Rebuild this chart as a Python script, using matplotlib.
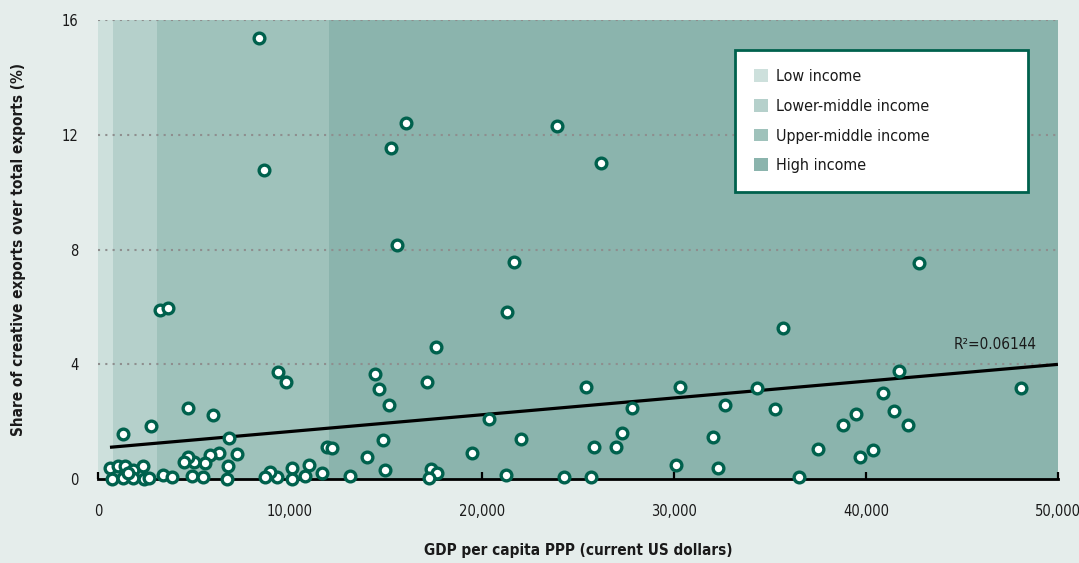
import matplotlib
matplotlib.use("Agg")
from matplotlib import pyplot as plt
from matplotlib.patches import Patch
from matplotlib.ticker import FuncFormatter
import numpy as np

#
# Data
#

GDP = [8400, 8650, 16050, 15260, 23900, 26200, 15570, 21670, 42760, 21300,
       3230, 3650, 35680, 17590, 9370, 9780, 14430, 14630, 15160, 17120,
       25400, 30310, 34350, 48100, 40910, 41720, 4670, 5970, 2760, 1320,
       27840, 32680, 35270, 41480, 39500, 38780, 42210, 20350, 22010, 14860,
       27300, 26960, 25850, 32050, 37480, 40380, 39710, 19480, 30090, 32280,
       36510, 21250, 24280, 25680, 17330, 17640, 17240, 11910, 12170, 13990,
       14950, 13120, 11650, 11000, 10760, 10090, 10090, 9350, 8960, 8700,
       7220, 6840, 6300, 5830, 5570, 5020, 4670, 4500, 6790, 4880,
       5480, 6700, 3400, 3850, 625, 1060, 1410, 1840, 2360, 755,
       1280, 1810, 2400, 1560, 2660]
SHARE = [15.38, 10.78, 12.42, 11.55, 12.32, 11.03, 8.16, 7.57, 7.54, 5.83,
         5.90, 5.97, 5.27, 4.62, 3.73, 3.40, 3.66, 3.13, 2.58, 3.38,
         3.22, 3.22, 3.18, 3.19, 3.01, 3.78, 2.49, 2.23, 1.86, 1.57,
         2.49, 2.58, 2.43, 2.38, 2.27, 1.88, 1.89, 2.08, 1.40, 1.36,
         1.62, 1.13, 1.13, 1.45, 1.05, 1.01, 0.78, 0.91, 0.49, 0.38,
         0.08, 0.14, 0.06, 0.08, 0.34, 0.20, 0.05, 1.13, 1.09, 0.78,
         0.30, 0.12, 0.21, 0.49, 0.12, 0.37, 0.00, 0.08, 0.23, 0.08,
         0.87, 1.42, 0.90, 0.84, 0.57, 0.60, 0.78, 0.60, 0.46, 0.12,
         0.08, 0.00, 0.13, 0.08, 0.38, 0.44, 0.44, 0.31, 0.45, 0.00,
         0.02, 0.02, 0.00, 0.21, 0.03]

# income group limits (GDP per capita PPP)
BAND_EDGES = [0, 780, 3070, 12030, 50000]
BAND_LABELS = ["Low income", "Lower-middle income",
               "Upper-middle income", "High income"]
BAND_COLOURS = ["#cde0dc", "#b5d0cb", "#9fc2bb", "#8bb4ad"]

# linear trend shown on the chart
TREND_INTERCEPT = 1.07
TREND_SLOPE = 5.86e-5
R2_TEXT = "R\u00b2=0.06144"

Y_TICKS = [0, 4, 8, 12, 16]
X_TICKS = [0, 10000, 20000, 30000, 40000, 50000]

BG = "#e5edeb"
DARK = "#00614d"
INK = "#1a1a1a"

plt.rcParams['font.family'] = ['DejaVu Sans']
plt.rcParams['font.stretch'] = 'condensed'

fig = plt.figure(figsize=(10.79, 5.63), dpi=100, facecolor=BG)
ax = fig.add_axes([0.0908, 0.1492, 0.8897, 0.8144])
ax.set_facecolor(BG)

for i in range(len(BAND_LABELS)):
    ax.axvspan(BAND_EDGES[i], BAND_EDGES[i + 1], color=BAND_COLOURS[i],
               lw=0, zorder=0)

for y in Y_TICKS[1:]:
    ax.axhline(y, color="#8e8e8e", lw=1.5, ls=(0, (1, 2.5)), zorder=1)

xs = np.array([min(GDP), 50000])
ax.plot(xs, TREND_INTERCEPT + TREND_SLOPE * xs, color="black", lw=2.3,
        zorder=3, solid_capstyle="butt")

ax.plot(GDP, SHARE, ls="none", marker="o", ms=7.7, mew=2.4, mfc="white",
        mec=DARK, zorder=5, clip_on=False)

ax.text(48900, 4.68, R2_TEXT, ha="right", va="center", fontsize=11,
        color=INK)

ax.set_xlim(0, 50000)
ax.set_ylim(0, 16)
ax.set_xticks(X_TICKS)
ax.set_yticks(Y_TICKS)
ax.xaxis.set_major_formatter(FuncFormatter(lambda v, p: "{:,.0f}".format(v)))
ax.tick_params(axis="x", direction="in", length=5, width=1.6, color="black",
               pad=18, labelsize=10.5, labelcolor=INK)
ax.tick_params(axis="y", length=0, pad=14, labelsize=10.5, labelcolor=INK)

for s in ["top", "right", "left"]:
    ax.spines[s].set_visible(False)
ax.spines["bottom"].set_linewidth(2)
ax.spines["bottom"].set_zorder(4)

ax.set_xlabel("GDP per capita PPP (current US dollars)", fontsize=11,
              fontweight="bold", color=INK)
ax.set_ylabel("Share of creative exports over total exports (%)",
              fontsize=11, fontweight="bold", color=INK)
ax.xaxis.set_label_coords(0.5, -0.157)
ax.yaxis.set_label_coords(-0.0833, 0.5)
ax.xaxis.label.set_va("center")
ax.yaxis.label.set_va("center")

handles = [Patch(facecolor=c, edgecolor="none") for c in BAND_COLOURS]
leg = ax.legend(handles, BAND_LABELS, loc="upper left",
                bbox_to_anchor=(0.6635, 0.6347, 0.3052, 0.301), mode="expand",
                fontsize=11.5, frameon=True, fancybox=False, framealpha=1,
                borderpad=1.2, labelspacing=0.92, handlelength=0.85,
                handleheight=0.85, handletextpad=0.5, borderaxespad=0)
leg.get_frame().set_facecolor("white")
leg.get_frame().set_edgecolor(DARK)
leg.get_frame().set_linewidth(2)
leg.set_zorder(6)
for t in leg.get_texts():
    t.set_color(INK)

fig.savefig("out.png", dpi=100, facecolor=BG)
